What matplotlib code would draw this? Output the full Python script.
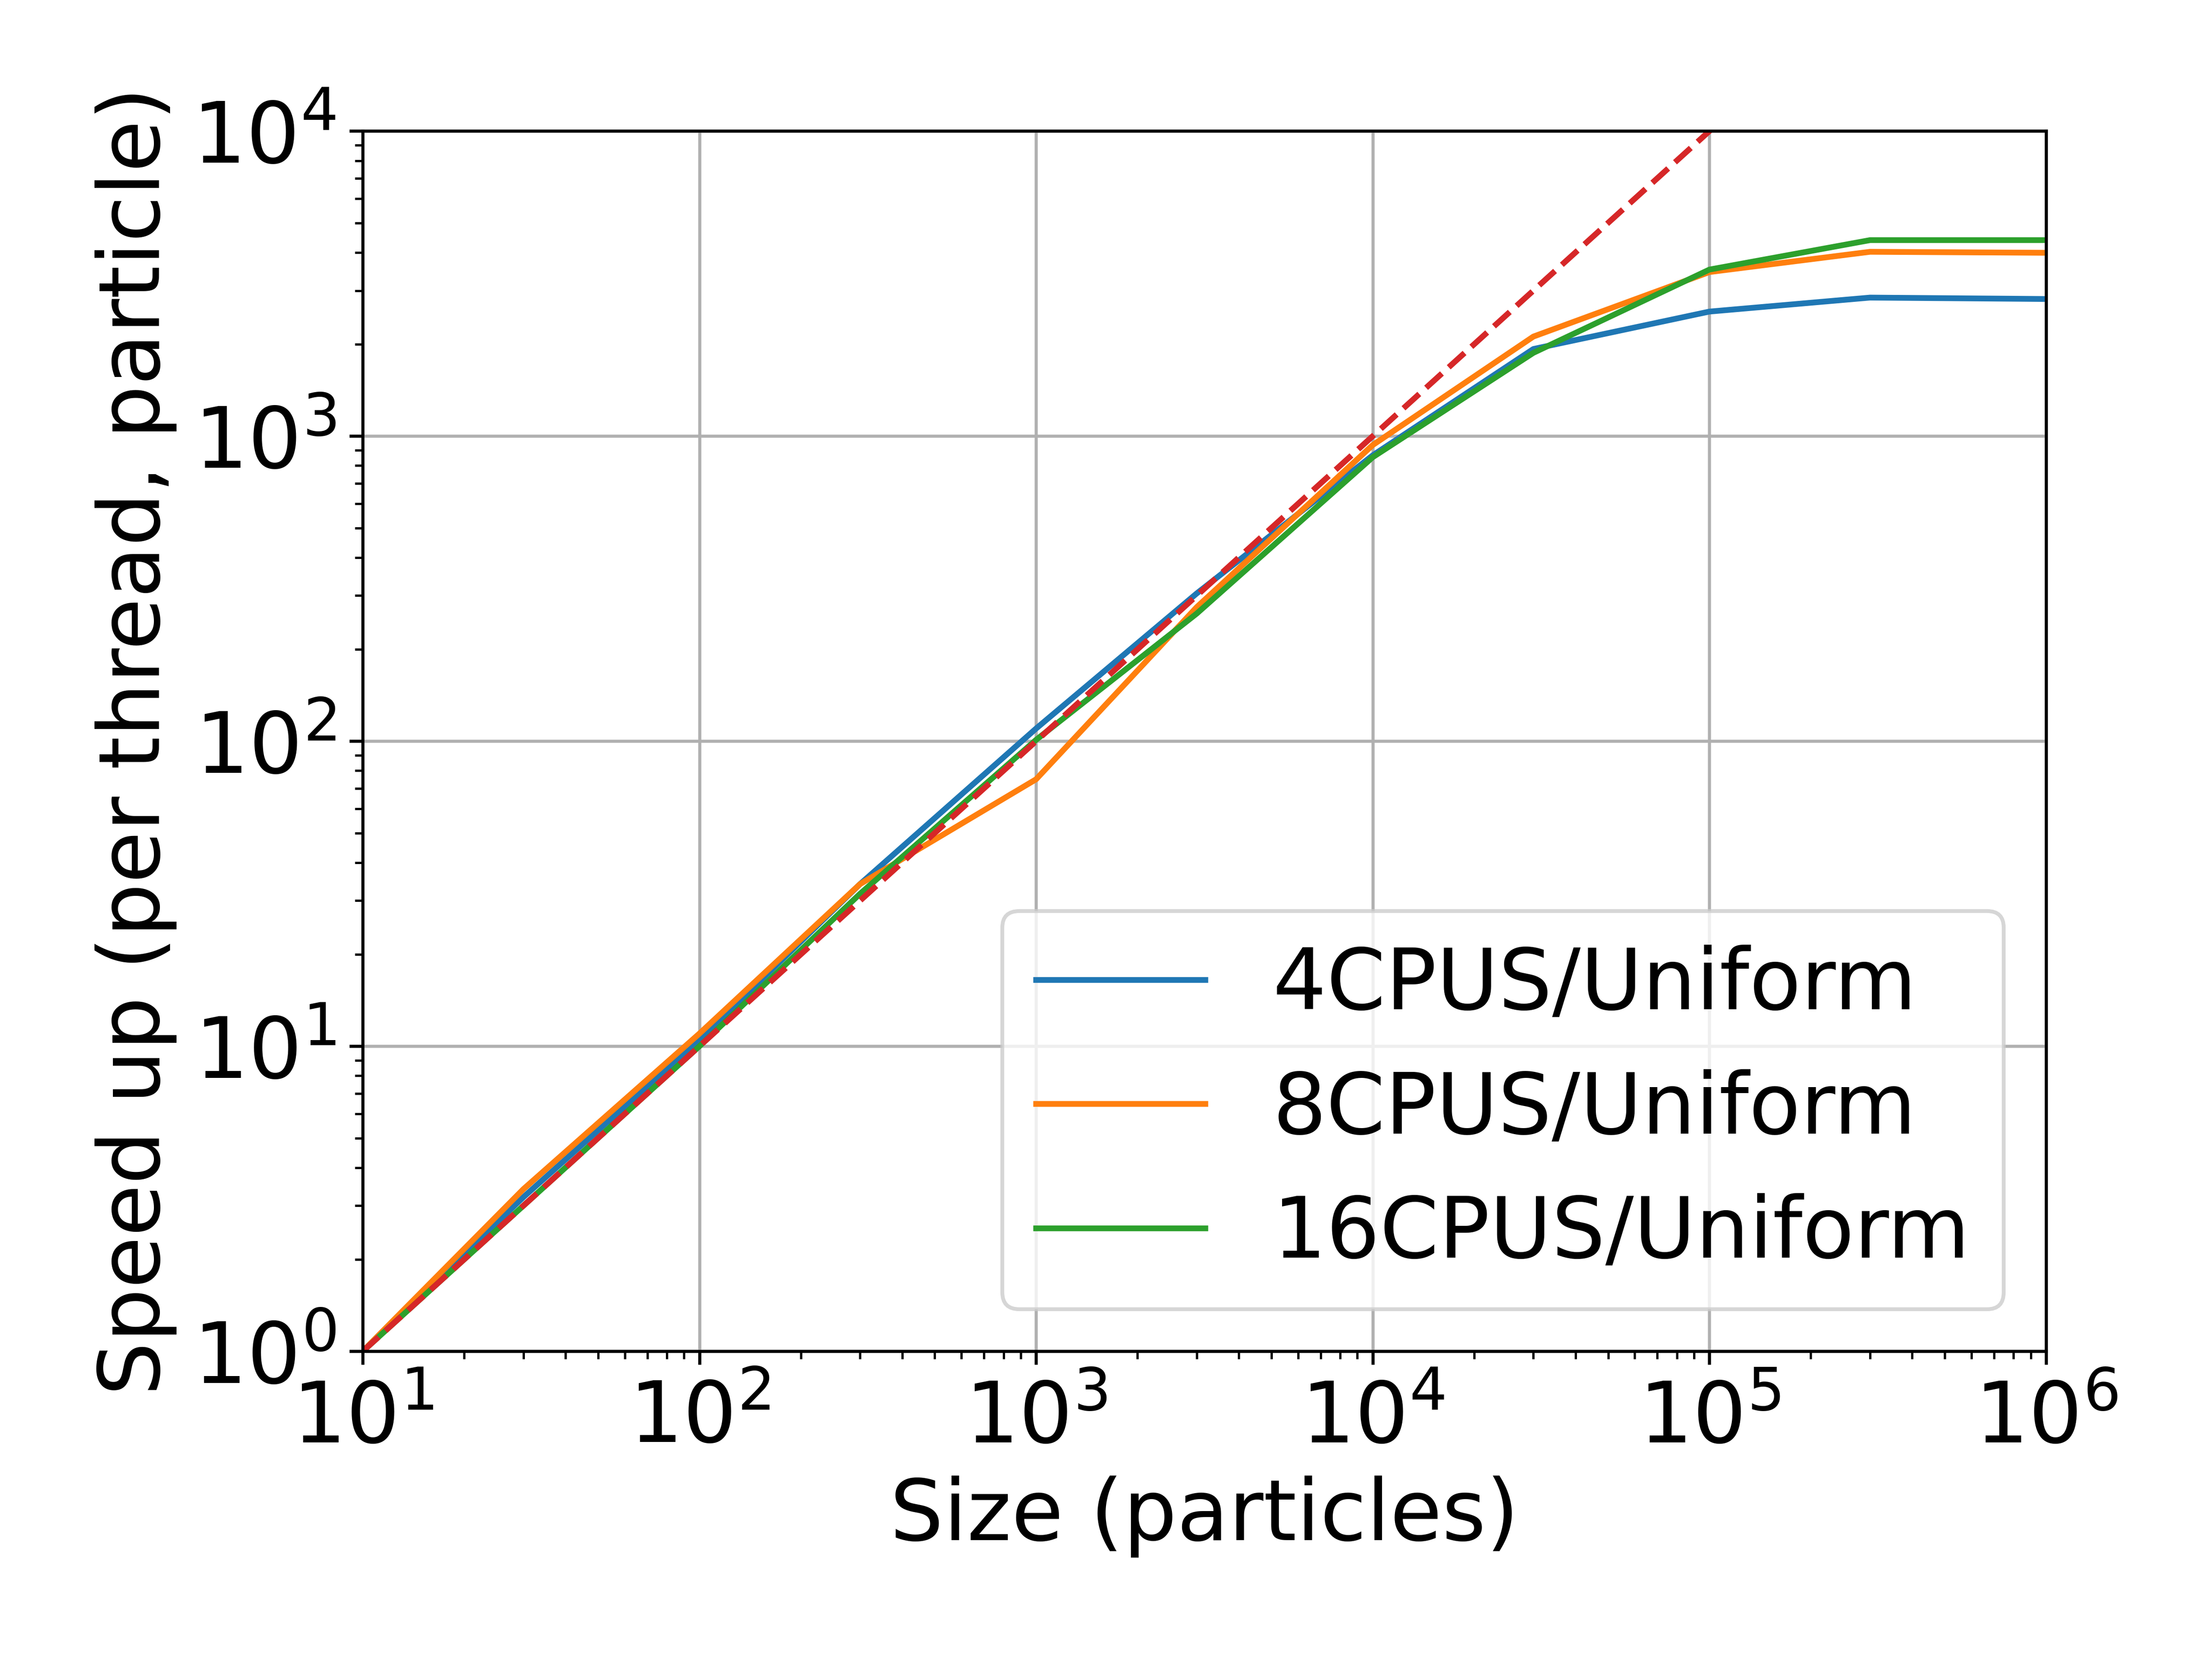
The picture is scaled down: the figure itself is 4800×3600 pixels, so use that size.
import matplotlib
matplotlib.use("Agg")
import matplotlib.pyplot as plt

# 数据
sizes = [10, 30, 100, 300, 1000, 3000, 10000, 30000, 100000, 300000, 1000000]
speedup_4 = [1.0, 3.2, 10.5, 34, 110, 305, 865, 1930, 2560, 2845, 2815]
speedup_8 = [1.0, 3.4, 11.0, 34, 75, 275, 935, 2120, 3450, 4020, 3990]
speedup_16 = [1.0, 3.0, 10.0, 31.6, 101, 262, 853, 1875, 3515, 4390, 4390]
ideal = [1, 3, 10, 30, 100, 300, 1000, 3000, 10000, 30000, 100000]

plt.rcParams['font.size'] = 22

fig, ax = plt.subplots(figsize=(8, 6), dpi=600)
fig.subplots_adjust(left=0.164, right=0.925, bottom=0.1855, top=0.921)

ax.plot(sizes, speedup_4, label='4CPUS/Uniform', color='tab:blue', lw=1.5)
ax.plot(sizes, speedup_8, label='8CPUS/Uniform', color='tab:orange', lw=1.5)
ax.plot(sizes, speedup_16, label='16CPUS/Uniform', color='tab:green', lw=1.5)
ax.plot(sizes, ideal, '--', color='tab:red', lw=1.5)

ax.set_xscale('log')
ax.set_yscale('log')
ax.set_xlim(10, 1e6)
ax.set_ylim(1, 1e4)
ax.grid(True, which='major')
ax.set_xlabel("Size (particles)")
ax.set_ylabel("Speed up (per thread, particle)")
ax.legend(loc='lower right')

fig.savefig("out.png", dpi=600)
